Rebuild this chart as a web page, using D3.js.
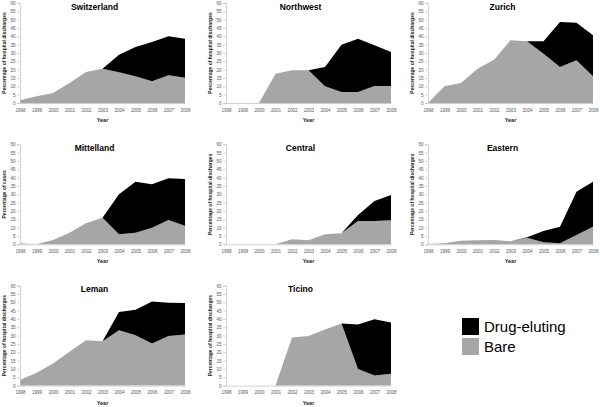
<!DOCTYPE html>
<html><head><meta charset="utf-8">
<script src="https://cdn.jsdelivr.net/npm/d3@7"></script>
<style>body{margin:0;background:#fff}svg{display:block}</style>
</head><body><svg id="c" width="600" height="407"></svg>
<script>
const years = [1998,1999,2000,2001,2002,2003,2004,2005,2006,2007,2008];
const yTicks = [0,5,10,15,20,25,30,35,40,45,50,55,60];
const regions = ["Switzerland","Northwest","Zurich","Mittelland","Central","Eastern","Leman","Ticino"];
const yLabels = ["Percentage of hospital discharges","Percentage of hospital discharges","Percentage of hospital discharges","Percentage of cases","Percentage of hospital discharges","Percentage of hospital discharges","Percentage of hospital discharges","Percentage of hospital discharges"];
const legendLabels = ["Drug-eluting","Bare"];

const bareSwitzerland = [1.6,4,6,12,18.6,20.6,18.4,16,13,16.6,15.2];
const drugSwitzerland = [0,0,0,0,0,0,10.6,17.6,23.6,23.4,23.4];
const bareNorthwest = [0,0,0,17.6,19.6,19.6,10,6.6,6.6,10.2,10.2];
const drugNorthwest = [0,0,0,0,0,0,11.6,28.4,32,24.4,20.4];
const bareZurich = [0,10,12,20.6,26,37.6,37,29.5,21.6,25.6,16];
const drugZurich = [0,0,0,0,0,0,0,7.5,27,22.6,24.6];
const bareMittelland = [0.6,0.1,2.6,7,12.6,16,6,7,10,14.6,11.2];
const drugMittelland = [0,0,0,0,0,0,24,30.6,26,25,28];
const bareCentral = [0,0,0,0,3,2.4,6,6.6,14,14,14.4];
const drugCentral = [0,0,0,0,0,0,0,0,3.6,12,15.2];
const bareEastern = [0.2,0.6,2.2,2.4,2.6,1.8,4,1.2,0.6,5.6,10.6];
const drugEastern = [0,0,0,0,0,0,0.3,6.8,10,26,27];
const bareLeman = [3.4,7.7,13.3,20.3,27.2,26.6,33.2,30.2,25.2,29.8,30.6];
const drugLeman = [0,0,0,0,0,0,10.9,15.3,25.3,19.9,18.9];
const bareTicino = [0,0,0,0,28.8,29.8,33.7,37.3,9.9,6,7.1];
const drugTicino = [0,0,0,0,0,0,0,0,26.8,33.8,30.7];

const bareSeries = [bareSwitzerland,bareNorthwest,bareZurich,bareMittelland,bareCentral,bareEastern,bareLeman,bareTicino];
const drugSeries = [drugSwitzerland,drugNorthwest,drugZurich,drugMittelland,drugCentral,drugEastern,drugLeman,drugTicino];

const svg = d3.select("#c");
const colLeft = [20, 226, 428];
const rowTop = [3, 144.3, 285.6];
const pw = 165, ph = 100;
const colors = {drug:"#000000", bare:"#a6a6a6"};
const font = "'Liberation Sans', Arial, sans-serif";

regions.forEach((name, i) => {
  const col = i % 3, row = Math.floor(i / 3);
  const g = svg.append("g").attr("transform", `translate(${colLeft[col]},${rowTop[row]})`);
  const x = d3.scaleLinear().domain([1998, 2008]).range([0, pw]);
  const y = d3.scaleLinear().domain([0, 60]).range([ph, 0]);
  const table = years.map((yr, k) => ({year: yr, bare: bareSeries[i][k], drug: drugSeries[i][k]}));
  const stacked = d3.stack().keys(["bare","drug"])(table);
  const area = d3.area().x(d => x(d.data.year)).y0(d => y(d[0])).y1(d => y(d[1]));
  g.selectAll("path.a").data(stacked).join("path").attr("class","a")
    .attr("d", area).attr("fill", d => colors[d.key]);

  // y axis
  const ya = g.append("g").call(d3.axisLeft(y).tickValues(yTicks).tickSize(3).tickPadding(1.5));
  ya.select(".domain").attr("stroke", "#bfbfbf").attr("stroke-width", 0.7);
  ya.selectAll(".tick line").attr("stroke", "#bfbfbf").attr("stroke-width", 0.6);
  ya.selectAll("text").attr("font-size", 4.6).attr("font-family", font).attr("fill", "#595959");
  // x axis
  const xa = g.append("g").attr("transform", `translate(0,${ph})`)
    .call(d3.axisBottom(x).tickValues(years).tickFormat(d3.format("d")).tickSize(0).tickPadding(5.5));
  xa.select(".domain").attr("stroke", "#bfbfbf").attr("stroke-width", 0.7);
  xa.selectAll("text").attr("font-size", 4.6).attr("font-family", font).attr("fill", "#595959");

  g.append("text").attr("x", pw/2 - 8).attr("y", 6.5).attr("text-anchor","middle")
    .attr("font-family", font).attr("font-weight","bold").attr("font-size", 8.5).attr("fill","#000").text(name);
  g.append("text").attr("x", pw/2).attr("y", ph + 19).attr("text-anchor","middle")
    .attr("font-family", font).attr("font-weight","bold").attr("font-size", 5.5).attr("fill","#222").text("Year");
  g.append("text").attr("transform", `translate(-14,${ph/2}) rotate(-90)`).attr("text-anchor","middle")
    .attr("font-family", font).attr("font-weight","bold").attr("font-size", 5).attr("fill","#222").text(yLabels[i]);
});

const lg = svg.append("g").attr("transform","translate(462,318)");
legendLabels.forEach((lab, k) => {
  lg.append("rect").attr("x",0).attr("y", k*20).attr("width",17).attr("height",17)
    .attr("fill", k === 0 ? colors.drug : colors.bare);
  lg.append("text").attr("x", 22).attr("y", k*20 + 14).attr("font-family", font)
    .attr("font-size", 15).attr("fill","#000").text(lab);
});
</script></body></html>
